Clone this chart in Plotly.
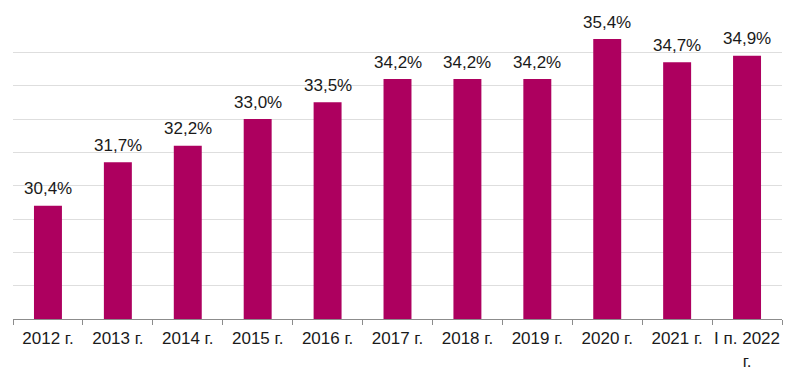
import plotly.graph_objects as go

categories = ["2012 г.", "2013 г.", "2014 г.", "2015 г.", "2016 г.", "2017 г.",
              "2018 г.", "2019 г.", "2020 г.", "2021 г.", "I п. 2022<br>г."]
values = [30.4, 31.7, 32.2, 33.0, 33.5, 34.2, 34.2, 34.2, 35.4, 34.7, 34.9]
labels = ["30,4%", "31,7%", "32,2%", "33,0%", "33,5%", "34,2%", "34,2%", "34,2%",
          "35,4%", "34,7%", "34,9%"]

FONT = "Liberation Sans, Arial, sans-serif"
fig = go.Figure()
fig.add_trace(go.Bar(x=categories, y=values, marker_color="#AD005F",
                     marker_line_width=0, width=0.4, hoverinfo="skip"))

for c, v, t in zip(categories, values, labels):
    fig.add_annotation(x=c, y=v, text=t, showarrow=False, yanchor="middle",
                       yshift=17, font=dict(family=FONT, size=17, color="#1a1a1a"))

fig.update_layout(
    width=792, height=370,
    margin=dict(l=5, r=18, t=10, b=59, autoexpand=False),
    paper_bgcolor="white", plot_bgcolor="white",
    showlegend=False,
    font=dict(family=FONT, size=17, color="#1a1a1a"),
)
fig.update_xaxes(type="category", showline=True, linecolor="#8c8c8c", linewidth=1,
                 ticks="outside", ticklen=5, tickcolor="#8c8c8c",
                 tickson="boundaries", tickangle=0, automargin=False,
                 showgrid=False, ticklabelstandoff=4,
                 tickfont=dict(family=FONT, size=17, color="#1a1a1a"))
fig.update_yaxes(range=[27, 36.03], dtick=1, tick0=27, showticklabels=False,
                 showgrid=True, gridcolor="#dedede", gridwidth=1, zeroline=False,
                 showline=False, automargin=False)

fig.write_html("out.html")
